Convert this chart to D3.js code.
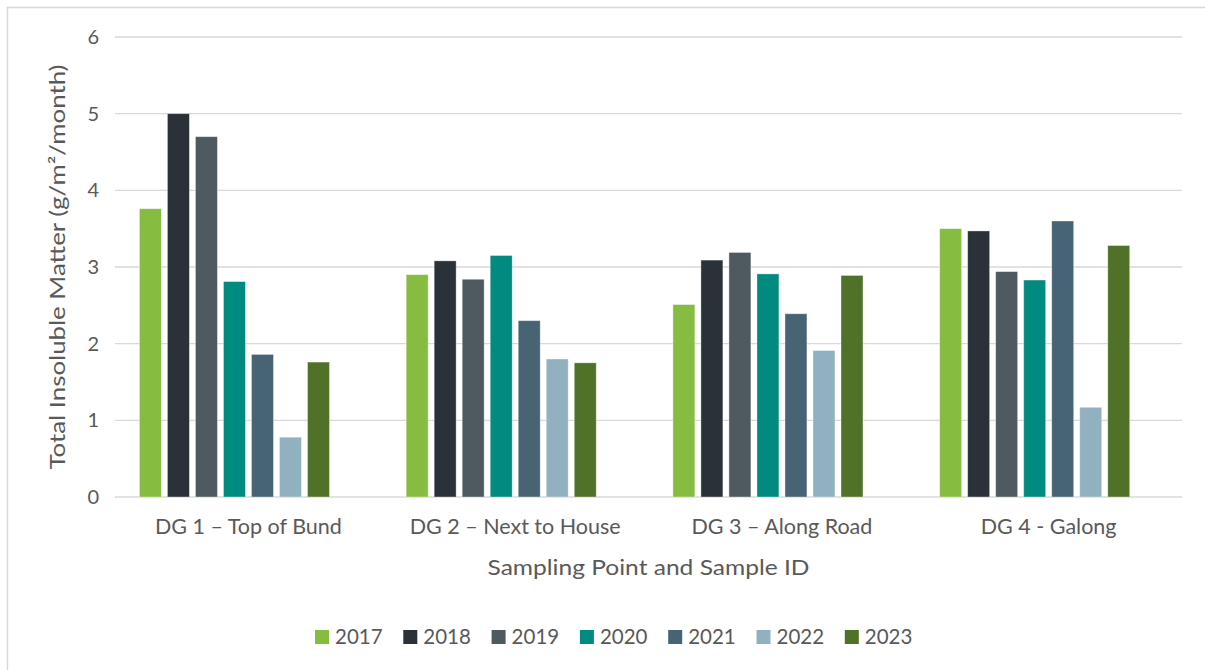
<!DOCTYPE html>
<html>
<head>
<meta charset="utf-8">
<script src="https://cdn.jsdelivr.net/npm/d3@7"></script>
<style>
  body { margin: 0; background: #fff; }
  text { font-family: Lato, "Open Sans", sans-serif; fill: #595959; }
</style>
</head>
<body>
<div id="chart"></div>
<script>
// data
const categories = ["DG 1 \u2013 Top of Bund", "DG 2 \u2013 Next to House", "DG 3 \u2013 Along Road", "DG 4 - Galong"];
const years = ["2017", "2018", "2019", "2020", "2021", "2022", "2023"];
const values2017 = [3.76, 2.90, 2.51, 3.50];
const values2018 = [5.00, 3.08, 3.09, 3.47];
const values2019 = [4.70, 2.84, 3.19, 2.94];
const values2020 = [2.81, 3.15, 2.91, 2.83];
const values2021 = [1.86, 2.30, 2.39, 3.60];
const values2022 = [0.78, 1.80, 1.91, 1.17];
const values2023 = [1.76, 1.75, 2.89, 3.28];
const yTicks = [0, 1, 2, 3, 4, 5, 6];
const colors = ["#86bc40", "#2a3139", "#4f5a60", "#008a80", "#466474", "#91b1c1", "#507228"];

const series = [values2017, values2018, values2019, values2020, values2021, values2022, values2023];

const W = 1205, H = 670;
const margin = {top: 37, right: 23, bottom: 173, left: 115},
      width = W - margin.left - margin.right,
      height = H - margin.top - margin.bottom;

const svg = d3.select("#chart")
  .append("svg")
  .attr("width", W)
  .attr("height", H);

// chart border (only top and left visible)
svg.append("path")
  .attr("d", `M7.5,${H} L7.5,7.5 L${W},7.5`)
  .attr("fill", "none")
  .attr("stroke", "#d9d9d9")
  .attr("stroke-width", 1.5);

const g = svg.append("g")
  .attr("transform", `translate(${margin.left}, ${margin.top})`);

// scales
const x0 = d3.scaleBand()
  .domain(categories)
  .range([0, width]);

const bw = x0.bandwidth();
const x1 = d3.scaleBand()
  .domain(years)
  .range([bw * 0.0915, bw * 0.0915 + bw * 0.7125])
  .paddingInner(0.216);

const y = d3.scaleLinear()
  .domain([0, 6])
  .range([height, 0]);

// gridlines
g.append("g")
  .selectAll("line")
  .data(yTicks)
  .join("line")
    .attr("x1", 0)
    .attr("x2", width)
    .attr("y1", d => y(d))
    .attr("y2", d => y(d))
    .attr("stroke", "#d9d9d9")
    .attr("stroke-width", 1.3);

// y axis labels
const yAxis = g.append("g")
  .call(d3.axisLeft(y).tickValues(yTicks).tickFormat(d3.format("d")).tickSize(0).tickPadding(16));
yAxis.select(".domain").remove();
yAxis.selectAll("text")
  .attr("font-size", 20)
  .attr("font-family", "Lato, sans-serif")
  .attr("fill", "#595959");

// x axis labels
const xAxis = g.append("g")
  .attr("transform", `translate(0, ${height})`)
  .call(d3.axisBottom(x0).tickSize(0).tickPadding(22));
xAxis.select(".domain").remove();
xAxis.selectAll("text")
  .attr("font-size", 21.5)
  .attr("font-family", "Lato, sans-serif")
  .attr("fill", "#595959");

// bars
const groups = g.append("g")
  .selectAll("g")
  .data(categories)
  .join("g")
    .attr("transform", d => `translate(${x0(d)}, 0)`);

groups.selectAll("rect")
  .data((c, ci) => years.map((yr, si) => ({year: yr, value: series[si][ci], color: colors[si]})))
  .join("rect")
    .attr("x", d => x1(d.year))
    .attr("y", d => y(d.value))
    .attr("width", x1.bandwidth())
    .attr("height", d => height - y(d.value))
    .attr("fill", d => d.color)
    .attr("stroke", "#ffffff")
    .attr("stroke-opacity", 0.45)
    .attr("stroke-width", 0.8);

// axis titles
svg.append("text")
  .attr("transform", `translate(65, ${margin.top + height / 2}) rotate(-90)`)
  .attr("text-anchor", "middle")
  .attr("font-size", 20.5)
  .attr("textLength", 405)
  .attr("lengthAdjust", "spacingAndGlyphs")
  .text("Total Insoluble Matter (g/m\u00b2/month)");

svg.append("text")
  .attr("x", margin.left + width / 2)
  .attr("y", 575)
  .attr("text-anchor", "middle")
  .attr("font-size", 21)
  .attr("textLength", 322)
  .attr("lengthAdjust", "spacingAndGlyphs")
  .text("Sampling Point and Sample ID");

// legend
const legendStart = 315, legendStep = 88.3;
const legend = svg.append("g")
  .selectAll("g")
  .data(years)
  .join("g")
    .attr("transform", (d, i) => `translate(${legendStart + i * legendStep}, 630)`);

legend.append("rect")
  .attr("width", 14)
  .attr("height", 14)
  .attr("fill", (d, i) => colors[i]);

legend.append("text")
  .attr("x", 20)
  .attr("y", 13.5)
  .attr("font-size", 20.5)
  .text(d => d);
</script>
</body>
</html>
